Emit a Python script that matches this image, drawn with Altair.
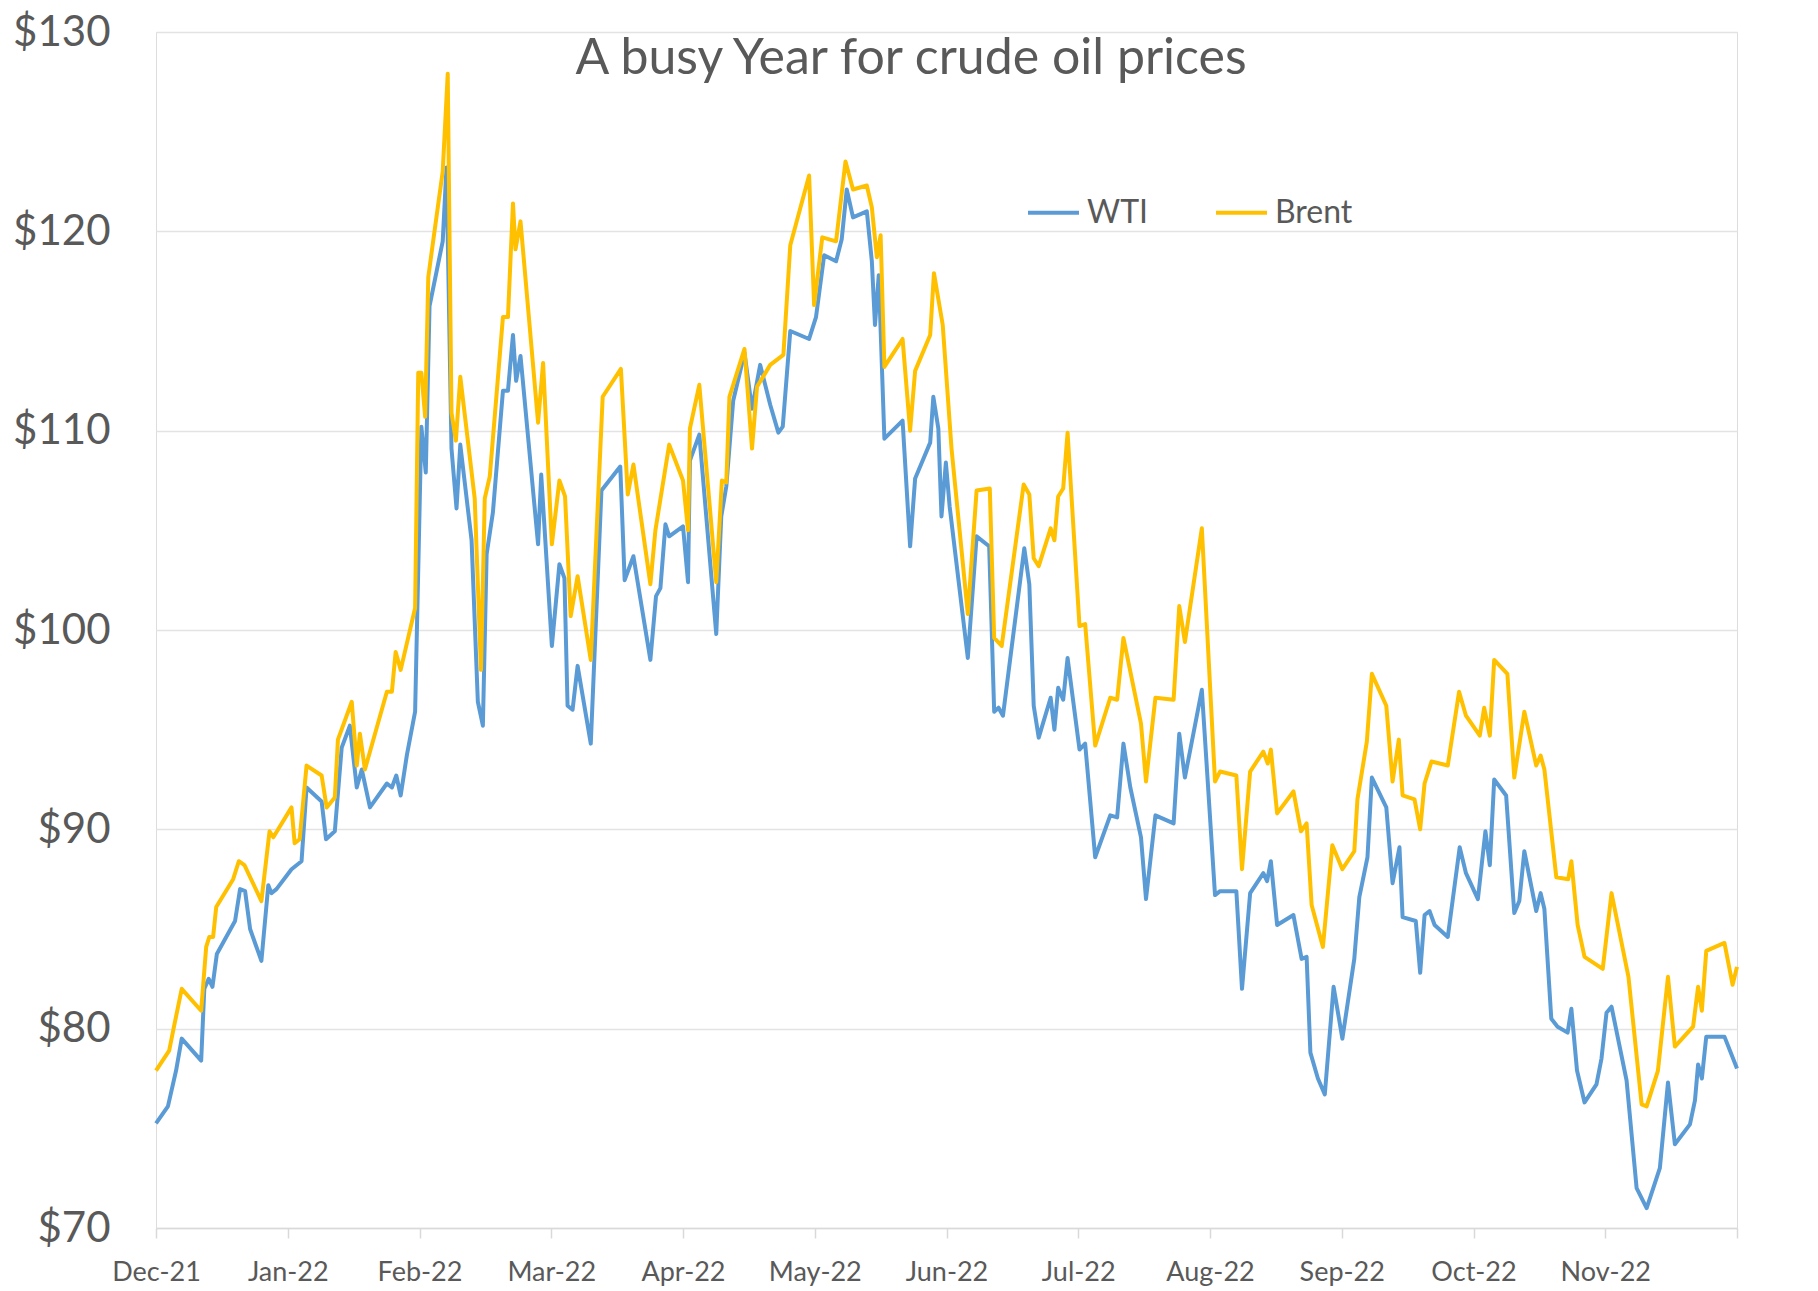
import json
import altair as alt
import pandas as pd

# ---- data ----
chart_title = ["A busy Year for crude oil prices"]
month_labels = ["Dec-21", "Jan-22", "Feb-22", "Mar-22", "Apr-22", "May-22",
                "Jun-22", "Jul-22", "Aug-22", "Sep-22", "Oct-22", "Nov-22"]
tick_days = [0, 21, 42, 63, 84, 105, 126, 147, 168, 189, 210, 231, 252]
price_ticks = [70, 80, 90, 100, 110, 120, 130]

wti_day = [0, 1.9, 3.2, 4.1, 7.2, 7.7, 8.4, 9.0, 9.7, 12.6, 13.4, 14.2, 15.0, 16.8,
           17.9, 18.4, 19.2, 21.6, 23.2, 24.0, 26.4, 27.1, 28.5, 29.6, 30.9, 32.0,
           32.8, 34.1, 36.8, 37.6, 38.3, 39.0, 40.0, 41.3, 42.3, 43.0, 43.6, 45.7,
           46.3, 47.1, 47.9, 48.5, 50.3, 51.3, 52.1, 52.7, 53.7, 55.3, 56.1, 56.9,
           57.4, 58.1, 60.9, 61.4, 63.1, 64.3, 65.1, 65.6, 66.4, 67.2, 69.3, 71.0,
           74.0, 74.7, 76.1, 78.8, 79.7, 80.4, 81.2, 81.8, 84.0, 84.8, 85.1, 86.6,
           89.3, 90.1, 90.9, 92.0, 93.8, 95.0, 96.3, 97.9, 99.2, 99.9, 101.1, 104.1,
           105.2, 106.5, 108.4, 109.3, 110.1, 111.1, 113.3, 114.1, 114.6, 115.2,
           116.1, 119.0, 120.2, 121.0, 123.4, 123.9, 124.7, 125.2, 125.9, 126.5,
           129.4, 130.8, 132.8, 133.6, 134.3, 135.0, 138.4, 139.2, 139.9, 140.7,
           142.6, 143.2, 143.8, 144.6, 145.3, 147.2, 148.1, 149.7, 152.1, 153.2,
           154.2, 155.3, 157.0, 157.8, 159.3, 162.2, 163.1, 164.0, 166.7, 168.8,
           169.6, 172.2, 173.1, 174.4, 176.5, 177.1, 177.7, 178.7, 181.3, 182.6,
           183.4, 184.0, 185.2, 186.3, 187.7, 189.1, 191.0, 191.8, 193.1, 193.8,
           196.1, 197.1, 198.2, 198.7, 200.8, 201.5, 202.2, 203.0, 203.8, 205.9,
           207.8, 208.8, 210.7, 211.9, 212.6, 213.3, 215.2, 216.5, 217.3, 218.1,
           220.0, 220.7, 221.3, 222.4, 223.4, 225.0, 225.6, 226.5, 227.7, 229.6,
           230.4, 231.2, 232.0, 234.4, 236.0, 237.6, 239.7, 241.0, 242.1, 244.5,
           245.3, 245.8, 246.4, 247.1, 250.0, 252.0]
wti_price = [75.25, 76.1, 77.9, 79.5, 78.4, 82.0, 82.5, 82.1, 83.75, 85.4, 87.0, 86.9,
             85.0, 83.4, 87.2, 86.8, 87.0, 88.0, 88.4, 92.1, 91.4, 89.5, 89.9, 94.1,
             95.2, 92.1, 93.0, 91.1, 92.3, 92.1, 92.7, 91.7, 93.75, 95.9, 110.2, 107.9,
             116.25, 119.5, 123.2, 109.1, 106.1, 109.3, 104.5, 96.4, 95.2, 103.8, 105.9,
             112.0, 112.0, 114.8, 112.5, 113.75, 104.3, 107.8, 99.2, 103.3, 102.6, 96.2,
             96.0, 98.2, 94.3, 107.0, 108.2, 102.5, 103.7, 98.5, 101.7, 102.1, 105.3,
             104.7, 105.2, 102.4, 108.5, 109.8, 99.8, 105.7, 107.2, 111.5, 113.9, 111.1,
             113.3, 111.3, 109.9, 110.2, 115.0, 114.6, 115.7, 118.8, 118.5, 119.6, 122.1,
             120.7, 121.0, 118.5, 115.3, 117.8, 109.6, 110.5, 104.2, 107.6, 109.4, 111.7,
             110.1, 105.7, 108.4, 106.2, 98.6, 104.7, 104.2, 95.9, 96.1, 95.7, 104.1,
             102.3, 96.2, 94.6, 96.6, 95.0, 97.1, 96.5, 98.6, 94.0, 94.3, 88.6, 90.7,
             90.6, 94.3, 92.1, 89.6, 86.5, 90.7, 90.3, 94.8, 92.6, 97.0, 86.7, 86.9,
             86.9, 82.0, 86.8, 87.8, 87.4, 88.4, 85.2, 85.7, 83.5, 83.6, 78.8, 77.5,
             76.7, 82.1, 79.5, 83.5, 86.6, 88.6, 92.6, 91.1, 87.3, 89.1, 85.6, 85.4,
             82.8, 85.7, 85.9, 85.2, 84.6, 89.1, 87.8, 86.5, 89.9, 88.2, 92.5, 91.7,
             85.8, 86.4, 88.9, 85.9, 86.8, 86.0, 80.5, 80.1, 79.8, 81.0, 77.9, 76.3,
             77.2, 78.5, 80.8, 81.1, 77.4, 72.0, 71.0, 73.0, 77.3, 74.2, 75.2, 76.4,
             78.2, 77.5, 79.6, 79.6, 78.0]

brent_day = [0, 2.1, 2.8, 4.1, 7.2, 8.0, 8.5, 9.1, 9.6, 12.3, 13.2, 14.1, 16.8, 18.1,
             18.7, 21.6, 22.1, 22.9, 24.0, 26.4, 27.2, 28.5, 29.0, 31.2, 32.0, 32.5,
             33.3, 36.8, 37.6, 38.2, 39.0, 41.3, 41.8, 42.3, 42.9, 43.4, 44.0, 45.7,
             46.5, 47.1, 47.8, 48.5, 50.8, 51.8, 52.4, 53.2, 55.3, 56.1, 56.9, 57.3,
             58.1, 60.9, 61.7, 63.1, 64.3, 65.2, 66.1, 67.2, 69.3, 71.2, 74.1, 75.2,
             76.1, 78.8, 79.6, 81.8, 84.0, 84.8, 85.1, 86.6, 89.3, 90.2, 90.9, 91.4,
             93.8, 95.0, 95.8, 97.9, 100.0, 101.1, 104.1, 104.9, 106.2, 108.4, 109.9,
             111.1, 113.3, 114.1, 114.9, 115.5, 116.1, 119.0, 120.2, 121.0, 123.4,
             124.0, 125.4, 126.8, 129.4, 130.8, 132.9, 133.6, 134.8, 138.3, 139.2,
             139.9, 140.7, 142.6, 143.2, 143.8, 144.6, 145.3, 147.2, 148.1, 149.7,
             152.1, 153.2, 154.2, 157.0, 157.8, 159.3, 162.2, 163.1, 164.0, 166.7,
             168.8, 169.6, 172.2, 173.1, 174.4, 176.5, 177.2, 177.7, 178.7, 181.3,
             182.5, 183.4, 184.2, 186.0, 187.5, 189.1, 191.0, 191.5, 193.0, 193.8,
             196.1, 197.1, 198.1, 198.7, 200.6, 201.5, 202.2, 203.3, 205.9, 207.7,
             208.8, 211.0, 211.7, 212.6, 213.3, 215.4, 216.5, 218.1, 220.0, 220.7,
             221.3, 223.2, 225.1, 225.6, 226.6, 227.7, 230.6, 232.0, 234.7, 236.8,
             237.6, 239.4, 241.0, 242.1, 245.0, 245.8, 246.4, 247.1, 250.0, 251.3,
             252.0]
brent_price = [77.9, 78.9, 80.0, 82.0, 80.9, 84.1, 84.6, 84.6, 86.1, 87.5, 88.4, 88.2,
               86.4, 89.9, 89.6, 91.1, 89.3, 89.5, 93.2, 92.7, 91.1, 91.6, 94.5, 96.4,
               93.2, 94.8, 93.0, 96.9, 96.9, 98.9, 98.0, 101.1, 112.9, 112.9, 110.7,
               117.7, 119.1, 123.0, 127.9, 110.9, 109.5, 112.7, 106.6, 98.0, 106.6,
               107.7, 115.7, 115.7, 121.4, 119.1, 120.5, 110.4, 113.4, 104.3, 107.5,
               106.7, 100.7, 102.7, 98.5, 111.7, 113.1, 106.8, 108.3, 102.3, 105.0,
               109.3, 107.5, 105.0, 110.1, 112.3, 102.4, 107.5, 107.4, 111.7, 114.1,
               109.1, 112.2, 113.3, 113.8, 119.3, 122.8, 116.3, 119.7, 119.5, 123.5,
               122.1, 122.3, 121.2, 118.7, 119.8, 113.2, 114.6, 110.0, 113.0, 114.8,
               117.9, 115.3, 109.1, 100.8, 107.0, 107.1, 99.6, 99.2, 107.3, 106.8,
               103.6, 103.2, 105.1, 104.5, 106.7, 107.1, 109.9, 100.2, 100.3, 94.2,
               96.6, 96.5, 99.6, 95.3, 92.4, 96.6, 96.5, 101.2, 99.4, 105.1, 92.4, 92.9,
               92.7, 88.0, 92.9, 93.9, 93.3, 94.0, 90.8, 91.9, 89.9, 90.3, 86.2, 84.1,
               89.2, 88.0, 88.9, 91.5, 94.4, 97.8, 96.2, 92.4, 94.5, 91.7, 91.5, 90.0,
               92.3, 93.4, 93.2, 96.9, 95.7, 94.7, 96.1, 94.7, 98.5, 97.8, 92.6, 95.9,
               93.2, 93.7, 93.0, 87.6, 87.5, 88.4, 85.2, 83.6, 83.0, 86.8, 82.6, 76.2,
               76.1, 77.9, 82.6, 79.1, 80.1, 82.1, 80.9, 83.9, 84.3, 82.2, 83.1]

series_names = ["WTI", "Brent"]
series_colors = ["#5B9BD5", "#FFC000"]

df = pd.concat([
    pd.DataFrame({"day": wti_day, "price": wti_price, "series": "WTI"}),
    pd.DataFrame({"day": brent_day, "price": brent_price, "series": "Brent"}),
], ignore_index=True)
title_df = pd.DataFrame({"t": chart_title})

FONT = "Lato"
TEXT = "#595959"

x_label_expr = ("datum.value < 252 ? " + json.dumps(month_labels)
                + "[round(datum.value / 21)] : ''")

lines = alt.Chart(df).mark_line(strokeWidth=4, strokeJoin="round").encode(
    x=alt.X("day:Q",
            scale=alt.Scale(domain=[0, 252], nice=False, zero=False),
            axis=alt.Axis(values=tick_days, labelExpr=x_label_expr, title=None,
                          grid=False, domainColor="#D9D9D9", domainWidth=1.5,
                          tickColor="#D9D9D9", tickSize=10, tickWidth=1.5,
                          labelFont=FONT, labelFontSize=27, labelColor=TEXT,
                          labelPadding=21, labelFlush=False, labelOverlap=False)),
    y=alt.Y("price:Q",
            scale=alt.Scale(domain=[70, 130], nice=False, zero=False),
            axis=alt.Axis(values=price_ticks, labelExpr="'$' + datum.value", title=None,
                          domain=False, ticks=False, grid=True, gridColor="#E3E3E3",
                          gridWidth=1.5, labelFont=FONT, labelFontSize=42,
                          labelColor=TEXT, labelPadding=46)),
    color=alt.Color("series:N",
                    scale=alt.Scale(domain=series_names, range=series_colors),
                    sort=series_names,
                    legend=alt.Legend(orient="none", legendX=870, legendY=153,
                                      direction="horizontal", title=None,
                                      symbolType="stroke", symbolSize=2600,
                                      symbolStrokeWidth=4, labelFont=FONT,
                                      labelFontSize=32, labelColor=TEXT,
                                      labelOffset=6, columnPadding=60)),
    detail="series:N",
)

title_text = alt.Chart(title_df).mark_text(
    font=FONT, fontSize=50, color=TEXT, align="center", baseline="alphabetic"
).encode(text="t:N", x=alt.value(755), y=alt.value(42))

chart = alt.layer(lines, title_text).properties(
    width=1581,
    height=1196,
    autosize=alt.AutoSizeParams(type="none"),
    padding={"left": 148, "top": 24, "right": 73, "bottom": 62},
).configure_view(stroke=None).configure(background="white")

chart.save("out.html", embed_options={"renderer": "svg", "actions": False})
